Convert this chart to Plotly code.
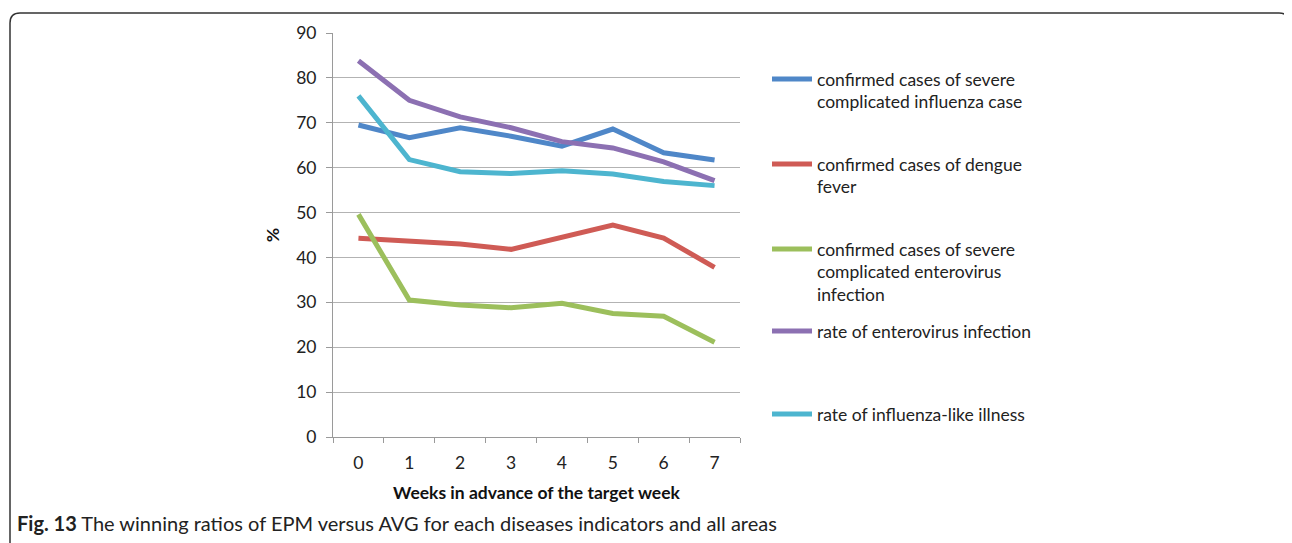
import plotly.graph_objects as go

weeks = ["0", "1", "2", "3", "4", "5", "6", "7"]

influenza_severe = [69.5, 66.7, 68.9, 67.0, 64.8, 68.6, 63.3, 61.7]
dengue = [44.3, 43.6, 43.0, 41.8, 44.6, 47.2, 44.3, 37.8]
enterovirus_severe = [49.6, 30.5, 29.4, 28.8, 29.8, 27.5, 26.9, 21.1]
enterovirus_rate = [83.8, 75.0, 71.3, 68.9, 65.8, 64.4, 61.3, 57.1]
ili_rate = [76.0, 61.8, 59.1, 58.7, 59.3, 58.6, 56.9, 56.0]

series_names = [
    "confirmed cases of severe<br>complicated influenza case",
    "confirmed cases of dengue<br>fever",
    "confirmed cases of severe<br>complicated enterovirus<br>infection",
    "rate of enterovirus infection",
    "rate of influenza-like illness",
]
series_values = [influenza_severe, dengue, enterovirus_severe, enterovirus_rate, ili_rate]
series_colors = ["#4F87C8", "#CF5B55", "#9CBF5C", "#8C70B2", "#4DB5CF"]

y_ticks = [0, 10, 20, 30, 40, 50, 60, 70, 80, 90]

# page offset (browser body margin)
OFF = 8
W, H = 1292 - OFF, 543 - OFF
# plot area in page pixel coordinates
L, R, T, B = 333, 740, 33, 437


def px_x(p):
    return (p - L) / (R - L)


def px_y(p):
    return (B - p) / (B - T)


FONT = "Lato, 'Open Sans', sans-serif"
legend_tops = [78, 163, 248, 330, 413]

fig = go.Figure()
legend_ids = ["legend", "legend2", "legend3", "legend4", "legend5"]
order = [1, 2, 0, 4, 3]
for i in order:
    fig.add_trace(go.Scatter(
        x=weeks, y=series_values[i], mode="lines", name=series_names[i],
        line=dict(color=series_colors[i], width=5),
        legend=legend_ids[i],
    ))

legend_layout = {}
for i, lid in enumerate(legend_ids):
    legend_layout[lid] = dict(
        x=px_x(767), xanchor="left",
        y=px_y(legend_tops[i] - 17), yanchor="top",
        valign="top", bgcolor="rgba(0,0,0,0)", borderwidth=0,
        font=dict(family=FONT, size=17.5, color="#222"),
        itemwidth=40,
    )

axis_col = "#9a9a9a"
fig.update_layout(
    width=W, height=H,
    margin=dict(l=L - OFF, r=W - (R - OFF), t=T - OFF, b=H - (B - OFF)),
    paper_bgcolor="white", plot_bgcolor="white",
    font=dict(family=FONT, size=17, color="#222"),
    showlegend=True,
    xaxis=dict(
        type="category", range=[-0.5, 7.5], tickson="boundaries",
        ticks="outside", ticklen=5, ticklabelstandoff=10,
        tickcolor=axis_col, showline=True, linecolor=axis_col, linewidth=1,
        showgrid=False, tickfont=dict(size=17.5, color="#222"),
        title=dict(text="<b>Weeks in advance of the target week</b>",
                   font=dict(size=17.5, color="#111"), standoff=14),
    ),
    yaxis=dict(
        range=[0, 90], tickvals=y_ticks, ticks="outside", ticklen=6,
        ticklabelstandoff=6,
        tickcolor=axis_col, showline=True, linecolor=axis_col, linewidth=1,
        showgrid=True, gridcolor="#b3b3b3", gridwidth=1, zeroline=False,
        tickfont=dict(size=17.5, color="#222"),
        title=dict(text="<b>%</b>", font=dict(size=17.5, color="#111"), standoff=12),
    ),
    **legend_layout,
)

fig.add_annotation(
    xref="paper", yref="paper", x=px_x(15), y=px_y(523),
    xanchor="left", yanchor="middle", showarrow=False,
    text="<b>Fig. 13</b> The winning ratios of EPM versus AVG for each diseases indicators and all areas",
    font=dict(family=FONT, size=20, color="#222"),
)

x0, x1 = px_x(10), px_x(1289)
yt, yb = px_y(13), px_y(570)
rx, ry = 10 / (R - L), 10 / (B - T)
path = (f"M {x0},{yb} L {x0},{yt - ry} Q {x0},{yt} {x0 + rx},{yt} "
        f"L {x1 - rx},{yt} Q {x1},{yt} {x1},{yt - ry} L {x1},{yb}")
fig.add_shape(type="path", xref="paper", yref="paper", path=path,
              line=dict(color="#333", width=1.5))

fig.write_html("out.html")
